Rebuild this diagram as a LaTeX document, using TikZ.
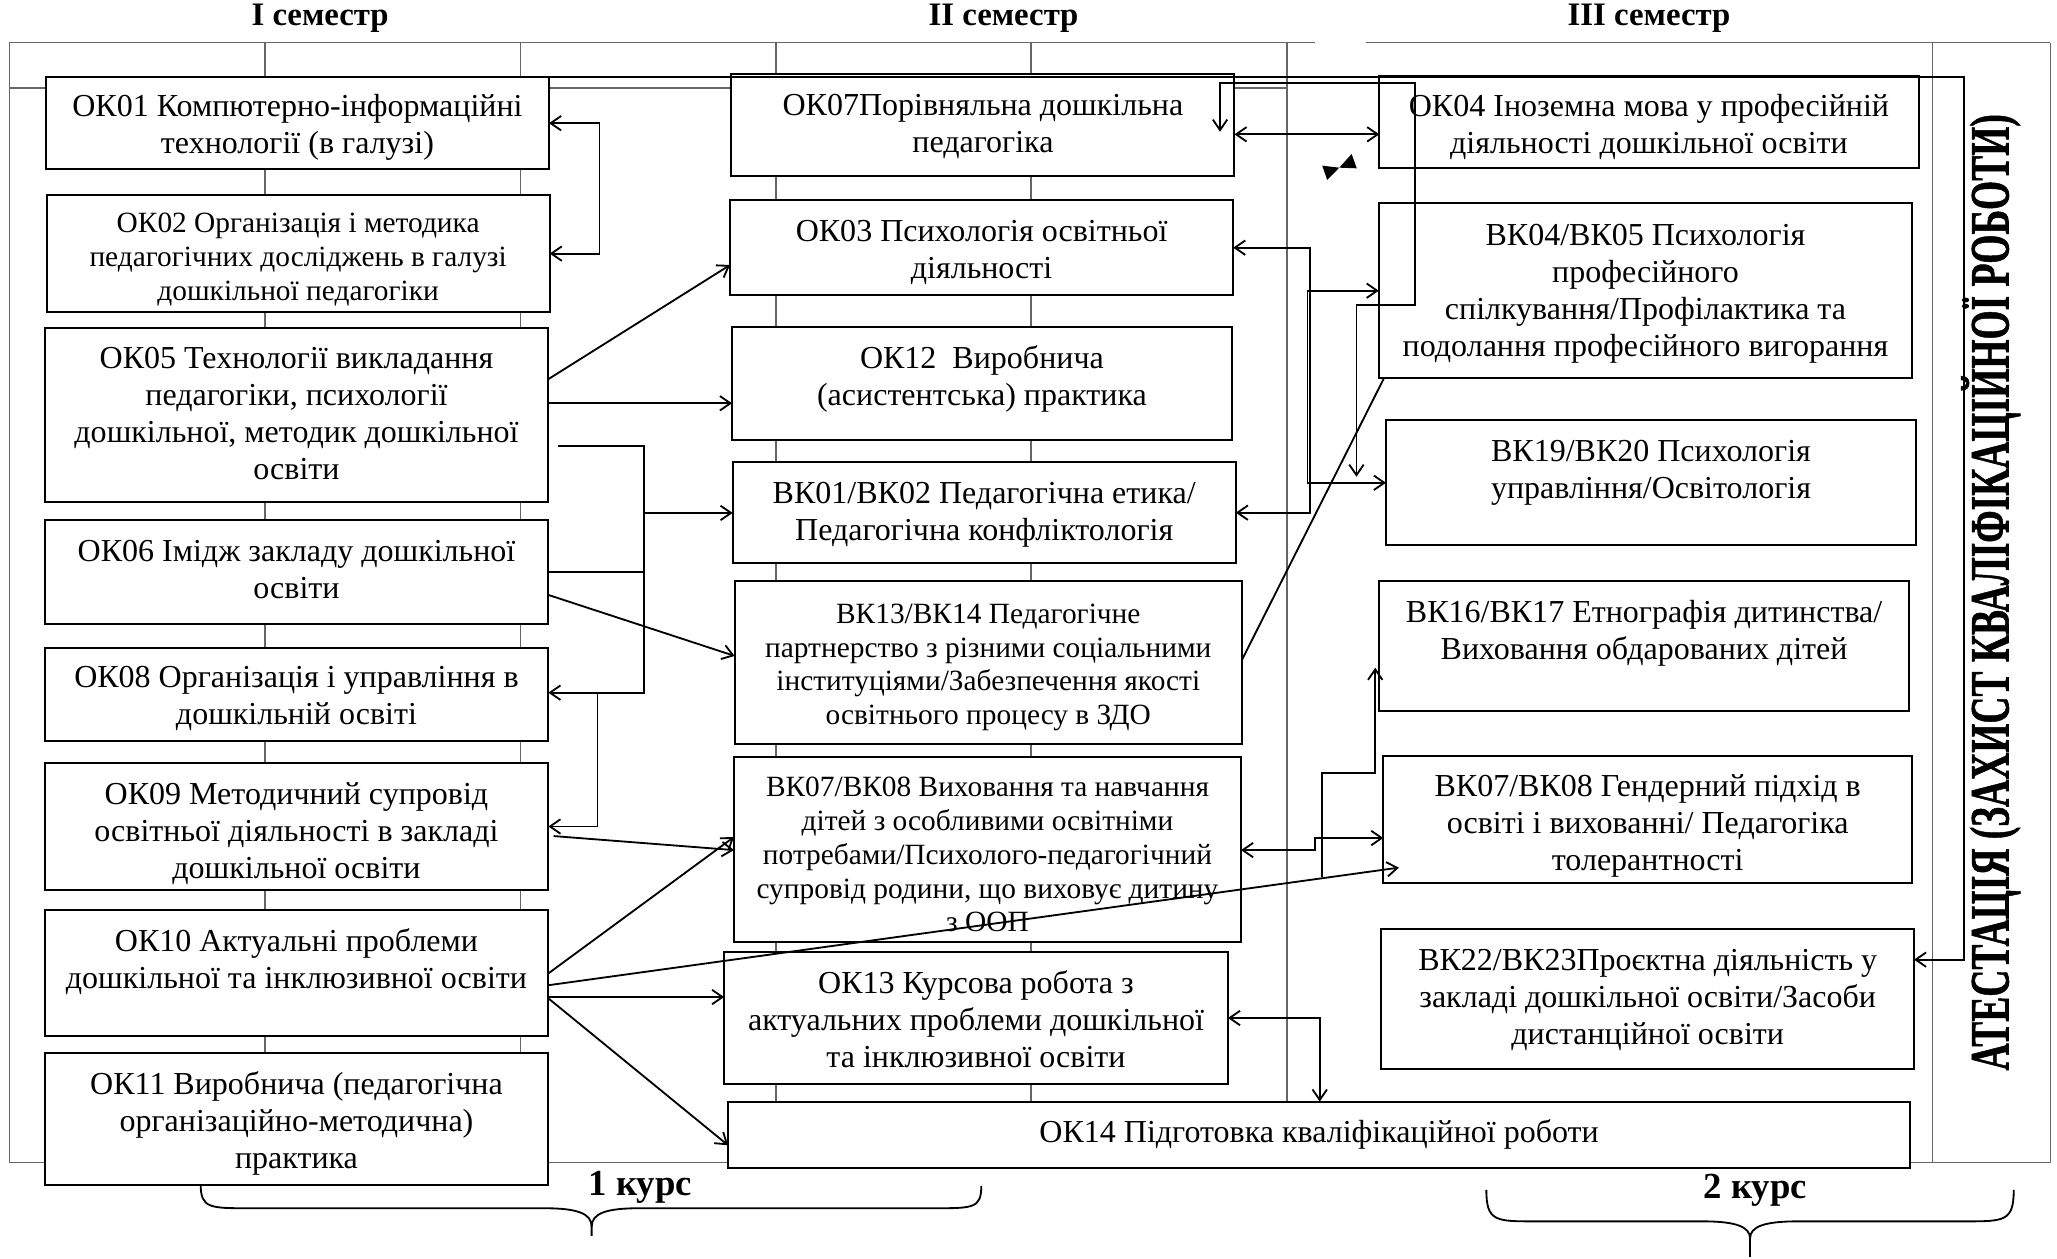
\documentclass[tikz,border=0pt]{standalone}
\usepackage{fontspec}
\setmainfont{Liberation Serif}
\usetikzlibrary{arrows.meta,fit,calc}
\tikzset{
  box/.style={draw, fill=white, line width=0.75pt, inner sep=0pt, outer sep=0pt},
  txt/.style={align=center, inner sep=0pt, font=\fontsize{12.2}{14.1}\selectfont},
  stxt/.style={align=center, inner sep=0pt, font=\fontsize{11.2}{12.9}\selectfont},
  gridline/.style={draw=black!60, line width=0.5pt},
  conn/.style={line width=0.7pt},
  thk/.style={line width=1.2pt},
  arr/.style={conn, -{Straight Barb[length=4pt,width=5.5pt]}},
  darr/.style={conn, {Straight Barb[length=4pt,width=5.5pt]}-{Straight Barb[length=4pt,width=5.5pt]}},
  head/.style={inner sep=0pt, font=\bfseries\fontsize{12.5}{14}\selectfont},
  kurs/.style={inner sep=0pt, font=\bfseries\fontsize{14}{16}\selectfont}
}
\newcommand{\bx}[8]{%
  \node[box, fit={(#2,#3) (#4,#5)}] (#1) {};
  \node[#7] (#1-t) at ($(#1.center)+(0,#6)$) {#8};
}
\begin{document}
\begin{tikzpicture}[x=0.5pt, y=-0.5pt]
\useasboundingbox (0,0) rectangle (1568,959);

% background grid
\draw[gridline] (7,32.5) -- (1002,32.5);
\draw[gridline] (1041,32.5) -- (1563,32.5);
\draw[gridline] (7,32.5) -- (7,886) -- (1563,886) -- (1563,32.5);
\draw[gridline] (1473,32.5) -- (1473,886);
\draw[gridline] (981,32.5) -- (981,886);
\draw[gridline] (7,67) -- (981,67);
\foreach \gx in {202,396.5,591.5,786} \draw[gridline] (\gx,32.5) -- (\gx,886);

% headings
\node[head] (h1) at (244,14) {I семестр};
\node[head] (h2) at (765,14) {II семестр};
\node[head] (h3) at (1257,14) {III семестр};

% column 1
\bx{ok01}{35}{59}{418.5}{128.8}{3}{txt}{ОК01 Компютерно-інформаційні\\технології (в галузі)}
\bx{ok02}{35.5}{148.6}{419}{238}{4.5}{stxt}{ОК02 Організація і методика\\педагогічних досліджень в галузі\\дошкільної педагогіки}
\bx{ok05}{34}{249.8}{418}{382.4}{-1}{txt}{ОК05 Технології викладання\\педагогіки, психології\\дошкільної, методик дошкільної\\освіти}
\bx{ok06}{34}{396.4}{418}{475.6}{-2}{txt}{ОК06 Імідж закладу дошкільної\\освіти}
\bx{ok08}{34}{493.7}{418}{564.8}{3.5}{txt}{ОК08 Організація і управління в\\дошкільній освіті}
\bx{ok09}{34}{581.8}{418}{678.4}{5}{txt}{ОК09 Методичний супровід\\освітньої діяльності в закладі\\дошкільної освіти}
\bx{ok10}{34}{693.4}{418}{790}{-8.5}{txt}{ОК10 Актуальні проблеми\\дошкільної та інклюзивної освіти}
\bx{ok11}{34}{802.4}{418}{903.3}{3.5}{txt}{ОК11 Виробнича (педагогічна\\організаційно-методична)\\практика}

% column 2
\bx{ok07}{557.5}{56.4}{941}{134}{1.5}{txt}{ОК07Порівняльна дошкільна\\педагогіка}
\bx{ok03}{556.5}{152.4}{940}{225}{4}{txt}{ОК03 Психологія освітньої\\діяльності}
\bx{ok12}{558}{249.5}{939}{335.4}{-3.5}{txt}{ОК12\ \ Виробнича\\(асистентська) практика}
\bx{bk01}{558.5}{352}{942}{429.4}{2}{txt}{ВК01/ВК02 Педагогічна етика/\\Педагогічна конфліктологія}
\bx{bk13}{560}{442.6}{946.7}{567}{4}{stxt}{ВК13/ВК14 Педагогічне\\партнерство з різними соціальними\\інституціями/Забезпечення якості\\освітнього процесу в ЗДО}
\bx{bk07}{559.5}{576.8}{946}{718}{4}{stxt}{ВК07/ВК08 Виховання та навчання\\дітей з особливими освітніми\\потребами/Психолого-педагогічний\\супровід родини, що виховує дитину\\з ООП}
\bx{ok13}{552}{725.8}{936}{826}{1}{txt}{ОК13 Курсова робота з\\актуальних проблеми дошкільної\\та інклюзивної освіти}
\bx{ok14}{555}{839.7}{1456}{890.5}{0}{txt}{ОК14 Підготовка кваліфікаційної роботи}

% column 3
\bx{ok04}{1051.4}{58}{1462.5}{128.3}{3.5}{txt}{ОК04 Іноземна мова у професійній\\діяльності дошкільної освіти}
\bx{bk04}{1051}{155}{1457.6}{288.2}{2}{txt}{ВК04/ВК05 Психологія\\професійного\\спілкування/Профілактика та\\подолання професійного вигорання}
\bx{bk19}{1056.5}{319.8}{1460.5}{415.2}{-7}{txt}{ВК19/ВК20 Психологія\\управління/Освітологія}
\bx{bk16}{1051.5}{443}{1455}{542}{-9.5}{txt}{ВК16/ВК17 Етнографія дитинства/\\Виховання обдарованих дітей}
\bx{bk07r}{1054.5}{576.5}{1457.5}{673}{4.5}{txt}{ВК07/ВК08 Гендерний підхід в\\освіті і вихованні/ Педагогіка\\толерантності}
\bx{bk22}{1053}{708}{1459}{815}{1}{txt}{ВК22/ВК23Проєктна діяльність у\\закладі дошкільної освіти/Засоби\\дистанційної освіти}

% attestation
\node[rotate=90, inner sep=0pt] (att) at (1517,451.5)
  {\resizebox{364.5pt}{14pt}{\raisebox{0pt}[0.662em][0pt]{\bfseries\addfontfeatures{FakeBold=1.2}АТЕСТАЦІЯ (ЗАХИСТ КВАЛІФІКАЦІЙНОЇ РОБОТИ)}}};

% named free points
\coordinate (j6) at (491,436);
\coordinate (jb) at (491,391);
\coordinate (j8) at (455.5,528);
\coordinate (br) at (996.6,221.6);
\coordinate (br2) at (996.6,368);
\coordinate (w1) at (930,100.4);
\coordinate (w2) at (1034,363.4);
\coordinate (s16) at (1007.6,668.3);

% connectors
\draw[darr] (ok01.east) -- ++(38.5,0) |- (ok02.east);
\draw[arr] (ok05.east |- 0,289) -- (ok03.west |- 0,202);
\draw[arr] (ok05.east |- 0,307.4) -- (ok12.west |- 0,307.4);
\draw[arr, shorten <=3.5pt] (ok05.east |- 0,340) -| (491,528) -- (ok08.east |- 0,528);
\draw[conn] (ok06.east |- j6) -- (j6);
\draw[arr] (jb) -- (bk01.west |- jb);
\draw[arr] (ok06.east |- 0,453.5) -- (bk13.west |- 0,500);
\draw[arr] (j8) |- (ok09.east |- 0,630);
\draw[arr, shorten <=2pt] (ok09.east |- 0,637) -- (bk07.west |- 0,648);
\draw[arr] (ok10.east |- 0,742) -- (bk07.west |- 0,638);
\draw[arr, shorten >=-6pt] (ok10.east |- 0,751) -- (bk07r.west |- 0,663);
\draw[arr] (ok10.east |- 0,760) -- (ok13.west |- 0,760);
\draw[arr] (ok10.east |- 0,761) -- (ok14.west |- 0,873);
\draw[darr] (ok07.east |- 0,102.4) -- (ok04.west |- 0,102.4);
\draw[darr] (ok03.east |- 0,188.8) -| (998.6,390.8) -- (bk01.east |- 0,390.8);
\draw[conn] (br) -- (br2);
\draw[arr] (br) -- (bk04.west |- br);
\draw[arr] (br2) -- (bk19.west |- br2);
\draw[darr] (w1) |- (1078.6,63.3) |- (1034,232.6) -- (w2);
\draw[thk, arr] (ok01.north east) -| (1497,731.5) -- (bk22.east |- 0,731.5);
\draw[conn] (bk13.east |- 0,503) -- ($(bk04.south west)+(4,0)$);
\draw[darr] (bk07.east |- 0,648) -| (1002.5,638.8) -- (bk07r.west |- 0,638.8);
\draw[arr] (s16) |- (1048.3,589) -- (1048.3,509);
\draw[darr] (ok13.east |- 0,776) -| (ok14.north -| 1006,0);

% bow tie mark
\fill (1007.9,126.3) -- (1020.9,127.8) -- (1011.7,137.2) -- cycle;
\fill (1020.9,127.8) -- (1034.2,128.3) -- (1030.3,117.4) -- cycle;

% braces
\draw[conn] (153,903) .. controls (153,921) and (160,921) .. (190,921) -- (415,921)
  .. controls (440,921) and (451,925) .. (451,935) -- (451,942);
\draw[conn] (451,935) .. controls (451,925) and (462,921) .. (487,921) -- (712,921)
  .. controls (742,921) and (748,921) .. (748,904);
\draw[conn] (1133,907) .. controls (1133,931) and (1140,931) .. (1170,931) -- (1298,931)
  .. controls (1323,931) and (1334,935) .. (1334,944) -- (1334,958);
\draw[conn] (1334,944) .. controls (1334,935) and (1345,931) .. (1370,931) -- (1498,931)
  .. controls (1528,931) and (1535,931) .. (1535,907);
\node[kurs] (k1) at (488,905) {1 курс};
\node[kurs] (k2) at (1338,907) {2 курс};
\end{tikzpicture}
\end{document}
